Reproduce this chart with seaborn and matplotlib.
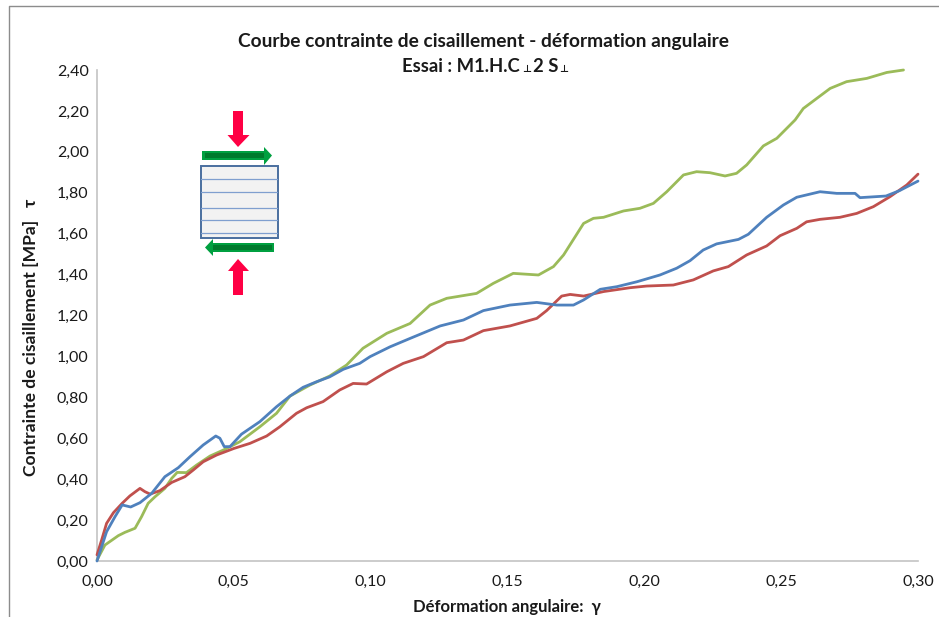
import matplotlib
matplotlib.use("Agg")
import matplotlib.pyplot as plt
from matplotlib.patches import Polygon, Rectangle
import pandas as pd
import seaborn as sns

# values
x_blue = [0, .0035, .0066, .0092, .0123, .0157, .020, .0248, .0297, .034, .0388, .0434, .0449, .0465, .0486, .0528, .0595, .0656, .0705, .0753, .0802, .085, .09, .096, .0998, .1071, .1144, .1254, .1339, .1412, .1509, .1607, .168, .1741, .1778, .1839, .19, .1973, .2057, .2118, .2167, .2215, .2264, .2344, .238, .2447, .2508, .2557, .2642, .2703, .277, .2788, .2883, .2932, .30]
y_blue = [0, .143, .217, .274, .264, .285, .331, .412, .456, .51, .567, .611, .60, .559, .559, .62, .681, .754, .806, .849, .876, .90, .937, .966, .999, 1.047, 1.088, 1.149, 1.178, 1.224, 1.251, 1.264, 1.251, 1.251, 1.276, 1.328, 1.341, 1.365, 1.398, 1.431, 1.468, 1.52, 1.55, 1.572, 1.597, 1.68, 1.74, 1.778, 1.805, 1.797, 1.797, 1.776, 1.784, 1.81, 1.857]

x_red = [0, .0017, .0035, .006, .0092, .012, .0157, .0175, .0194, .023, .0273, .0321, .0352, .0388, .0437, .05, .0559, .062, .0668, .0729, .0766, .0826, .0887, .0936, .0985, .1059, .1119, .1193, .1278, .1339, .1412, .1509, .1607, .1643, .1698, .1729, .1778, .1851, .1949, .2009, .2106, .2179, .2252, .2307, .2374, .2447, .2496, .2557, .2593, .2642, .2715, .2776, .2837, .2898, .2959, .30]
y_red = [.03, .103, .184, .236, .282, .318, .355, .339, .327, .344, .384, .412, .445, .485, .518, .55, .575, .611, .656, .722, .749, .779, .836, .868, .865, .925, .966, .999, 1.067, 1.08, 1.126, 1.149, 1.186, 1.224, 1.295, 1.303, 1.295, 1.317, 1.336, 1.344, 1.349, 1.374, 1.418, 1.439, 1.496, 1.54, 1.59, 1.626, 1.658, 1.67, 1.68, 1.699, 1.732, 1.781, 1.838, 1.891]

x_green = [0, .0029, .0078, .0102, .0139, .0163, .0187, .0212, .0248, .0273, .0293, .0327, .0364, .0413, .0461, .0522, .0595, .0656, .0705, .0778, .085, .0912, .0972, .1059, .1144, .1217, .1278, .1387, .1448, .1521, .1613, .1668, .1705, .1778, .1814, .1851, .1924, .1984, .2033, .2082, .2143, .2191, .224, .2295, .2337, .2374, .2435, .2484, .2551, .2581, .2679, .2739, .2813, .2886, .2947]
y_green = [.005, .078, .124, .14, .16, .217, .282, .314, .355, .404, .433, .432, .469, .513, .542, .583, .656, .722, .806, .86, .904, .958, 1.04, 1.113, 1.161, 1.251, 1.284, 1.308, 1.357, 1.406, 1.398, 1.439, 1.496, 1.65, 1.675, 1.68, 1.711, 1.724, 1.748, 1.805, 1.887, 1.903, 1.898, 1.882, 1.895, 1.936, 2.029, 2.066, 2.156, 2.212, 2.31, 2.343, 2.359, 2.388, 2.40]

x_ticks = [0, .05, .10, .15, .20, .25, .30]
y_ticks = [0, .2, .4, .6, .8, 1.0, 1.2, 1.4, 1.6, 1.8, 2.0, 2.2, 2.4]

W, H = 939, 617
FONT = ['Lato', 'DejaVu Sans']
DARK = '#1a1a1a'
AXIS = '#c4c4c4'

sns.set_theme(style="white")
plt.rcParams['font.family'] = FONT


def fx(px):
    return px / W


def fy(py):
    return 1 - py / H


def comma(values, digits):
    return [f"{v:.{digits}f}".replace(".", ",") for v in values]


def draw_sketch(fig):
    """Little specimen drawing, in figure pixels"""
    def poly(points, color):
        fig.add_artist(Polygon([(fx(a), fy(b)) for a, b in points], closed=True,
                               transform=fig.transFigure, facecolor=color, edgecolor='none'))

    # specimen block and its layers
    fig.add_artist(Rectangle((fx(200.5), fy(238)), 77 / W, 71.5 / H, transform=fig.transFigure,
                             facecolor='#f2f2f2', edgecolor='#4a6f9f', linewidth=1.4))
    for py in [179, 191.5, 208, 220.5, 233]:
        fig.add_artist(plt.Line2D([fx(201), fx(277)], [fy(py), fy(py)], transform=fig.transFigure,
                                  color='#7f9fcf', linewidth=0.9))

    # red arrows
    poly([(233, 111), (243, 111), (243, 135), (249.5, 135), (238, 147), (227.5, 135), (233, 135)], '#ff0044')
    poly([(233, 295), (243, 295), (243, 271), (249, 271), (238, 259), (228, 271), (233, 271)], '#ff0044')

    # green arrows
    poly([(202, 151), (264, 151), (264, 147), (272, 155.5), (264, 165), (264, 160), (202, 160)], '#00a040')
    poly([(274, 243), (213, 243), (213, 239), (205, 247.5), (213, 256), (213, 252), (274, 252)], '#00a040')
    poly([(205, 153), (264, 153), (264, 158), (205, 158)], '#007a2c')
    poly([(213, 245), (272, 245), (272, 250), (213, 250)], '#007a2c')


def main():
    fig = plt.figure(figsize=(W / 100, H / 100), dpi=100)
    ax = fig.add_axes([fx(97), fy(561), 821 / W, 491 / H])

    blue = pd.DataFrame({"x": x_blue, "y": y_blue})
    red = pd.DataFrame({"x": x_red, "y": y_red})
    green = pd.DataFrame({"x": x_green, "y": y_green})
    line = dict(x="x", y="y", ax=ax, linewidth=2, clip_on=False, solid_joinstyle='round')
    sns.lineplot(data=green, color='#9bbb59', zorder=3, **line)
    sns.lineplot(data=red, color='#c0504d', zorder=4, **line)
    sns.lineplot(data=blue, color='#4f81bd', zorder=5, **line)

    ax.set_xlim(0, .30)
    ax.set_ylim(0, 2.40)
    ax.set_xticks(x_ticks, comma(x_ticks, 2))
    ax.set_yticks(y_ticks, comma(y_ticks, 2))
    ax.tick_params(axis='both', length=10, width=1, color=AXIS, labelsize=11.5, labelcolor=DARK, direction='inout')
    ax.tick_params(axis='x', pad=5)
    ax.tick_params(axis='y', pad=1)
    ax.set_xlabel("")
    ax.set_ylabel("")
    for side in ['top', 'right']:
        ax.spines[side].set_visible(False)
    for side in ['left', 'bottom']:
        ax.spines[side].set_color(AXIS)
        ax.spines[side].set_linewidth(1.2)

    # titles, the small perpendicular signs are separate texts
    bold = dict(fontweight='bold', color=DARK, transform=fig.transFigure, va='center')
    fig.text(fx(484), fy(42), "Courbe contrainte de cisaillement - déformation angulaire", ha='center', fontsize=13.8, **bold)
    fig.text(fx(461), fy(66), "Essai : M1.H.C", ha='center', fontsize=13.3, **bold)
    fig.text(fx(546), fy(66), "2 S", ha='center', fontsize=13.3, **bold)
    fig.text(fx(527), fy(70), "\u22a5", ha='center', fontsize=7, **bold)
    fig.text(fx(564), fy(70), "\u22a5", ha='center', fontsize=7, **bold)
    fig.text(fx(507), fy(607), "Déformation angulaire:  \u03b3", ha='center', fontsize=12, **bold)
    fig.text(fx(31), fy(337), "Contrainte de cisaillement [MPa]   \u03c4", rotation=90, ha='center', fontsize=12.6, **bold)

    draw_sketch(fig)

    # frame of the screenshot, left and top only
    fig.add_artist(plt.Line2D([fx(9), fx(9), 1], [0, fy(6), fy(6)], transform=fig.transFigure, color='#8c8c8c', linewidth=1))

    fig.savefig("out.png", dpi=100)
    print("Saved out.png")


if __name__ == "__main__":
    main()
